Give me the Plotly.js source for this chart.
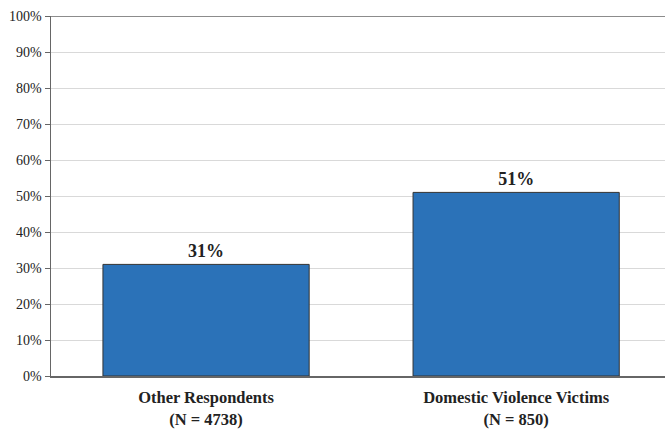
<!DOCTYPE html>
<html><head><meta charset="utf-8">
<script src="https://cdn.plot.ly/plotly-3.0.1.min.js"></script>
<style>body{margin:0;background:#fff}#c{width:665px;height:430px}</style>
</head><body><div id="c"></div>
<script>
var categories = ["Other Respondents<br>(N = 4738)", "Domestic Violence Victims<br>(N = 850)"];
var values = [31, 51];
var valueLabels = ["31%", "51%"];
var yTickVals = [0,10,20,30,40,50,60,70,80,90,100];
var yTickText = ["0%","10%","20%","30%","40%","50%","60%","70%","80%","90%","100%"];

var SERIF = "Liberation Serif";
var trace = {
  type: "bar",
  x: [0, 1],
  y: values,
  width: 0.665,
  text: valueLabels,
  textposition: "outside",
  cliponaxis: false,
  textfont: {family: SERIF, size: 18, color: "#222", weight: "bold"},
  marker: {color: "#2b72b8", line: {color: "#333", width: 1}},
  hoverinfo: "none"
};
var layout = {
  width: 665, height: 430,
  margin: {l: 51, r: 0, t: 16, b: 54},
  paper_bgcolor: "#fff", plot_bgcolor: "#fff",
  showlegend: false,
  font: {family: SERIF, color: "#222"},
  xaxis: {
    range: [-0.5, 1.48],
    tickvals: [0, 1], ticktext: categories,
    tickfont: {family: SERIF, size: 16.5, color: "#222", weight: "bold"},
    ticklabelstandoff: 6,
    showgrid: false, zeroline: false, showline: true, linecolor: "#666", linewidth: 1.5,
    ticks: "", fixedrange: true
  },
  yaxis: {
    range: [0, 100],
    tickvals: yTickVals, ticktext: yTickText,
    tickfont: {family: SERIF, size: 14, color: "#222"},
    showgrid: true, gridcolor: "#d9d9d9", gridwidth: 1,
    zeroline: false, showline: true, linecolor: "#666", linewidth: 1.5,
    ticks: "outside", ticklen: 5, tickcolor: "#666", tickwidth: 1,
    fixedrange: true
  },
  shapes: [{type: "line", xref: "paper", yref: "y", x0: 0, x1: 1, y0: 100, y1: 100,
            line: {color: "#666", width: 1.5}}],
  bargap: 0.33
};
Plotly.newPlot("c", [trace], layout, {displayModeBar: false, staticPlot: true});
</script></body></html>
